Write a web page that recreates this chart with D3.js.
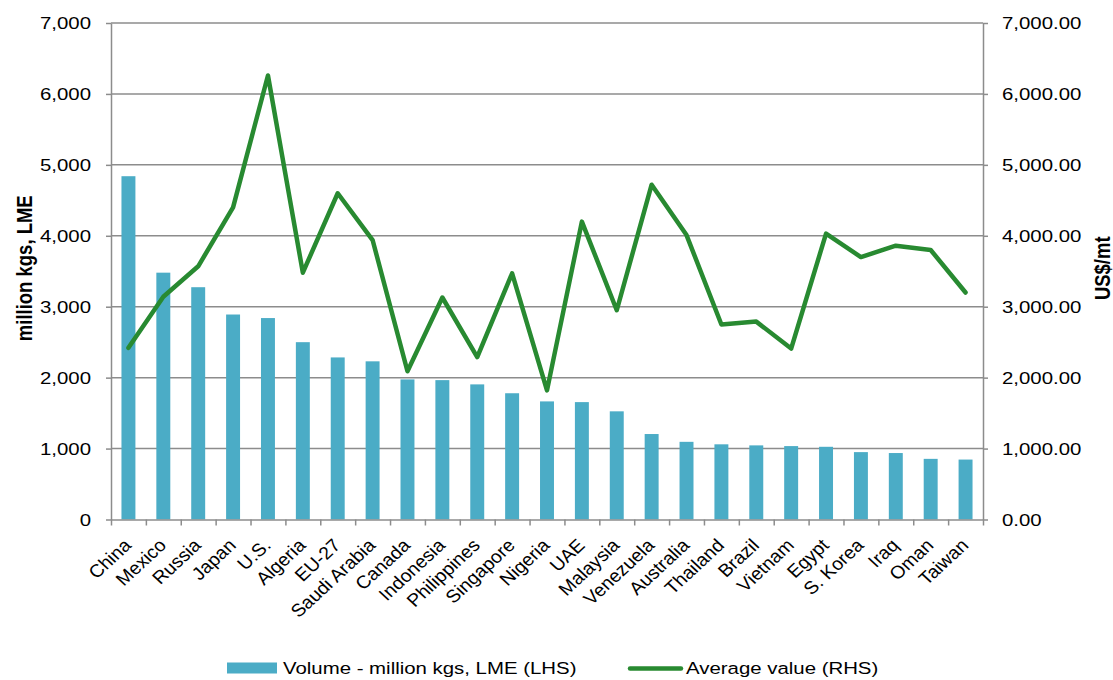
<!DOCTYPE html>
<html>
<head>
<meta charset="utf-8">
<script src="https://cdn.jsdelivr.net/npm/d3@7"></script>
<style>
  html, body { margin: 0; padding: 0; background: #fff; }
  svg { display: block; font-family: "Liberation Sans", Arial, sans-serif; }
</style>
</head>
<body>
<svg id="chart" width="1113" height="680"></svg>
<script>
// Aluminium import markets: volume (left axis) and average unit value (right axis)
const countries = ["China", "Mexico", "Russia", "Japan", "U.S.", "Algeria", "EU-27", "Saudi Arabia",
  "Canada", "Indonesia", "Philippines", "Singapore", "Nigeria", "UAE", "Malaysia", "Venezuela",
  "Australia", "Thailand", "Brazil", "Vietnam", "Egypt", "S. Korea", "Iraq", "Oman", "Taiwan"];

const volume = [4840, 3480, 3275, 2890, 2840, 2500, 2285, 2230,
  1975, 1965, 1905, 1780, 1665, 1655, 1525, 1205,
  1095, 1060, 1045, 1035, 1025, 950, 937, 855, 845];

const avgValue = [2420, 3140, 3570, 4400, 6260, 3480, 4600, 3940,
  2090, 3130, 2290, 3470, 1820, 4200, 2950, 4720,
  4010, 2750, 2790, 2410, 4030, 3700, 3860, 3800, 3200];

const leftTicks = [0, 1000, 2000, 3000, 4000, 5000, 6000, 7000];
const rightTicks = [0, 1000, 2000, 3000, 4000, 5000, 6000, 7000];

const seriesNames = ["Volume - million kgs, LME (LHS)", "Average value (RHS)"];
const leftTitle = "million kgs, LME";
const rightTitle = "US$/mt";

// layout
const plot = { left: 111, right: 983, top: 23, bottom: 519.5 };
const barColor = "#4BACC6";
const lineColor = "#288A31";
const gridColor = "#8C8C8C";
const textColor = "#000";
const fontSize = 17;
const stretch = 1.2;

const svg = d3.select("#chart");

const x = d3.scaleBand()
  .domain(countries)
  .range([plot.left, plot.right])
  .paddingInner(0.6)
  .paddingOuter(0.3);

const yLeft = d3.scaleLinear().domain([0, 7000]).range([plot.bottom, plot.top]);
const yRight = d3.scaleLinear().domain([0, 7000]).range([plot.bottom, plot.top]);

// horizontal gridlines
svg.append("g")
  .selectAll("line")
  .data(leftTicks.filter(d => d > 0))
  .join("line")
  .attr("x1", plot.left).attr("x2", plot.right)
  .attr("y1", d => yLeft(d)).attr("y2", d => yLeft(d))
  .attr("stroke", gridColor).attr("stroke-width", 1.5);

// bars
svg.append("g")
  .selectAll("rect")
  .data(countries.map((c, i) => ({ c, v: volume[i] })))
  .join("rect")
  .attr("x", d => x(d.c))
  .attr("width", x.bandwidth())
  .attr("y", d => yLeft(d.v))
  .attr("height", d => yLeft(0) - yLeft(d.v))
  .attr("fill", barColor);

function styleAxis(g) {
  g.select(".domain").attr("stroke", gridColor).attr("stroke-width", 1.5);
  g.selectAll(".tick line").attr("stroke", gridColor).attr("stroke-width", 1.5);
  g.selectAll("text").attr("fill", textColor).attr("font-size", fontSize);
}

// left axis
const gL = svg.append("g")
  .attr("transform", `translate(${plot.left},0)`)
  .call(d3.axisLeft(yLeft).tickValues(leftTicks).tickSize(5).tickSizeOuter(0).tickFormat(d3.format(",")));
styleAxis(gL);
gL.selectAll(".tick text")
  .attr("x", 0)
  .attr("dy", "0.35em")
  .attr("text-anchor", "end")
  .attr("transform", `translate(-20,0) scale(${stretch},1)`);

// right axis
const gR = svg.append("g")
  .attr("transform", `translate(${plot.right},0)`)
  .call(d3.axisRight(yRight).tickValues(rightTicks).tickSize(5).tickSizeOuter(0).tickFormat(d3.format(",.2f")));
styleAxis(gR);
gR.selectAll(".tick text")
  .attr("x", 0)
  .attr("dy", "0.35em")
  .attr("text-anchor", "start")
  .attr("transform", `translate(19,0) scale(${stretch},1)`);

// category axis: tick marks on the band boundaries
const xEdges = d3.scaleLinear().domain([0, countries.length]).range([plot.left, plot.right]);
const gX = svg.append("g")
  .attr("transform", `translate(0,${plot.bottom})`)
  .call(d3.axisBottom(xEdges).tickValues(d3.range(countries.length + 1)).tickSize(6).tickSizeOuter(0).tickFormat(""));
styleAxis(gX);

// rotated category labels
svg.append("g")
  .selectAll("text")
  .data(countries)
  .join("text")
  .attr("transform", d => `translate(${x(d) + x.bandwidth() / 2 + 4},${plot.bottom + 27}) scale(1.08,1) rotate(-45)`)
  .attr("text-anchor", "end")
  .attr("font-size", 18)
  .attr("fill", textColor)
  .text(d => d);

// average value line
const line = d3.line()
  .x((d, i) => x(countries[i]) + x.bandwidth() / 2)
  .y(d => yRight(d));

svg.append("path")
  .datum(avgValue)
  .attr("d", line)
  .attr("fill", "none")
  .attr("stroke", lineColor)
  .attr("stroke-width", 4.5)
  .attr("stroke-linejoin", "round")
  .attr("stroke-linecap", "round");

// axis titles
svg.append("text")
  .attr("transform", `translate(32,${(plot.top + plot.bottom) / 2 - 3}) scale(${stretch},1) rotate(-90)`)
  .attr("text-anchor", "middle")
  .attr("font-size", 18.5)
  .attr("font-weight", "bold")
  .attr("fill", textColor)
  .text(leftTitle);

svg.append("text")
  .attr("transform", `translate(1110,${(plot.top + plot.bottom) / 2 - 3}) scale(${stretch},1) rotate(-90)`)
  .attr("text-anchor", "middle")
  .attr("font-size", 18.5)
  .attr("font-weight", "bold")
  .attr("fill", textColor)
  .text(rightTitle);

// legend
const legend = svg.append("g");
legend.append("rect")
  .attr("x", 227).attr("y", 662.5).attr("width", 50).attr("height", 11)
  .attr("fill", barColor);
legend.append("text")
  .attr("transform", `translate(283,674) scale(${stretch},1)`)
  .attr("font-size", fontSize).attr("fill", textColor)
  .text(seriesNames[0]);
legend.append("line")
  .attr("x1", 630).attr("x2", 681).attr("y1", 668.5).attr("y2", 668.5)
  .attr("stroke", lineColor).attr("stroke-width", 4.5).attr("stroke-linecap", "round");
legend.append("text")
  .attr("transform", `translate(686,674) scale(${stretch},1)`)
  .attr("font-size", fontSize).attr("fill", textColor)
  .text(seriesNames[1]);
</script>
</body>
</html>
